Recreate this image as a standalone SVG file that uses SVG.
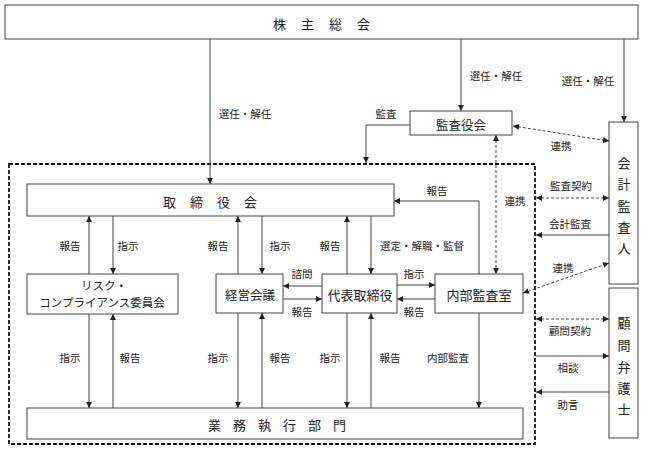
<svg xmlns="http://www.w3.org/2000/svg" width="645" height="449" viewBox="0 0 645 449">
<defs>
<style>
.box{fill:#fff;stroke:#444;stroke-width:1}
.ln{fill:none;stroke:#444;stroke-width:1}
.dl{fill:none;stroke:#444;stroke-width:1;stroke-dasharray:3 2}
.border{fill:none;stroke:#111;stroke-width:1.8;stroke-dasharray:4 2}
text{font-family:"Noto Sans CJK JP","Noto Sans CJK SC",sans-serif;fill:#222;dominant-baseline:central}
.lb{font-size:10.5px;text-anchor:middle}
.bt{font-size:12.5px;text-anchor:middle}
.big{font-size:13px}
</style>
<marker id="ah" viewBox="0 0 6 6" refX="6" refY="3" markerWidth="6" markerHeight="6" markerUnits="userSpaceOnUse" orient="auto-start-reverse">
<path d="M0,0 L6,3 L0,6 Z" fill="#222"/>
</marker>
</defs>

<rect class="border" x="9" y="164" width="526" height="280"/>

<g id="shareholders">
<rect class="box" x="5" y="5" width="633" height="34"/>
<text class="big" x="273" y="23" letter-spacing="15">株主総会</text>
</g>

<g id="board">
<rect class="box" x="27" y="184" width="367" height="32"/>
<text class="big" x="163" y="201" letter-spacing="14">取締役会</text>
</g>

<g id="kansayakukai">
<rect class="box" x="410" y="111" width="102" height="24"/>
<text class="bt" x="461" y="124">監査役会</text>
</g>

<g id="risk">
<rect class="box" x="27" y="274" width="151" height="40"/>
<text class="bt" x="104" y="285" style="font-size:11.5px">リスク・</text>
<text class="bt" x="102" y="302" style="font-size:11.5px">コンプライアンス委員会</text>
</g>

<g id="keiei">
<rect class="box" x="216" y="274" width="67" height="39"/>
<text class="bt" x="250" y="294">経営会議</text>
</g>

<g id="daihyo">
<rect class="box" x="322" y="274" width="75" height="39"/>
<text class="bt" x="360" y="294" style="font-size:13px">代表取締役</text>
</g>

<g id="naibu">
<rect class="box" x="435" y="274" width="88" height="39"/>
<text class="bt" x="479" y="294" style="font-size:13px">内部監査室</text>
</g>

<g id="gyomu">
<rect class="box" x="27" y="408" width="496" height="31"/>
<text class="big" x="208" y="424" letter-spacing="12">業務執行部門</text>
</g>

<g id="auditor">
<rect class="box" x="609" y="122" width="29" height="162"/>
<text class="bt" x="624" y="162" style="font-size:13px">会</text>
<text class="bt" x="624" y="183" style="font-size:13px">計</text>
<text class="bt" x="624" y="205" style="font-size:13px">監</text>
<text class="bt" x="624" y="226" style="font-size:13px">査</text>
<text class="bt" x="624" y="247" style="font-size:13px">人</text>
</g>

<g id="lawyer">
<rect class="box" x="609" y="288" width="29" height="150"/>
<text class="bt" x="624" y="322" style="font-size:13px">顧</text>
<text class="bt" x="624" y="344" style="font-size:13px">問</text>
<text class="bt" x="624" y="366" style="font-size:13px">弁</text>
<text class="bt" x="624" y="387" style="font-size:13px">護</text>
<text class="bt" x="624" y="408" style="font-size:13px">士</text>
</g>

<g id="connectors">
<path class="ln" d="M210 39 V184" marker-end="url(#ah)"/>
<path class="ln" d="M461 39 V111" marker-end="url(#ah)"/>
<path class="ln" d="M624 39 V122" marker-end="url(#ah)"/>
<path class="ln" d="M410 125 H366 V163" marker-end="url(#ah)"/>
<path class="dl" d="M513 126 L609 141" marker-start="url(#ah)" marker-end="url(#ah)"/>
<path class="dl" d="M496 135 V274" marker-start="url(#ah)" marker-end="url(#ah)"/>

<path class="ln" d="M89 274 V216" marker-end="url(#ah)"/>
<path class="ln" d="M113 216 V274" marker-end="url(#ah)"/>
<path class="ln" d="M238 274 V216" marker-end="url(#ah)"/>
<path class="ln" d="M262 216 V274" marker-end="url(#ah)"/>
<path class="ln" d="M347 274 V216" marker-end="url(#ah)"/>
<path class="ln" d="M371 216 V274" marker-end="url(#ah)"/>
<path class="ln" d="M479 274 V201 H394" marker-end="url(#ah)"/>

<path class="ln" d="M322 286 H283" marker-end="url(#ah)"/>
<path class="ln" d="M283 299 H322" marker-end="url(#ah)"/>
<path class="ln" d="M397 285 H435" marker-end="url(#ah)"/>
<path class="ln" d="M435 299 H397" marker-end="url(#ah)"/>

<path class="ln" d="M89 314 V408" marker-end="url(#ah)"/>
<path class="ln" d="M113 408 V314" marker-end="url(#ah)"/>
<path class="ln" d="M238 313 V408" marker-end="url(#ah)"/>
<path class="ln" d="M262 408 V313" marker-end="url(#ah)"/>
<path class="ln" d="M347 313 V408" marker-end="url(#ah)"/>
<path class="ln" d="M371 408 V313" marker-end="url(#ah)"/>
<path class="ln" d="M479 313 V408" marker-end="url(#ah)"/>

<path class="dl" d="M536 198 H609" marker-start="url(#ah)" marker-end="url(#ah)"/>
<path class="ln" d="M609 235 H536" marker-end="url(#ah)"/>
<path class="dl" d="M523 293 L609 263" marker-start="url(#ah)" marker-end="url(#ah)"/>
<path class="dl" d="M536 319 H609" marker-start="url(#ah)" marker-end="url(#ah)"/>
<path class="ln" d="M536 356 H609" marker-end="url(#ah)"/>
<path class="ln" d="M609 392 H536" marker-end="url(#ah)"/>
</g>

<g id="labels">
<text class="lb" x="245" y="113">選任・解任</text>
<text class="lb" x="496" y="75">選任・解任</text>
<text class="lb" x="588" y="80">選任・解任</text>
<text class="lb" x="386" y="113">監査</text>
<text class="lb" x="561" y="145">連携</text>
<text class="lb" x="515" y="200">連携</text>
<text class="lb" x="571" y="185">監査契約</text>
<text class="lb" x="570" y="223">会計監査</text>
<text class="lb" x="563" y="267">連携</text>
<text class="lb" x="570" y="330">顧問契約</text>
<text class="lb" x="568" y="367">相談</text>
<text class="lb" x="568" y="404">助言</text>
<text class="lb" x="437" y="190">報告</text>

<text class="lb" x="70" y="245">報告</text>
<text class="lb" x="128" y="245">指示</text>
<text class="lb" x="218" y="245">報告</text>
<text class="lb" x="280" y="245">指示</text>
<text class="lb" x="330" y="245">報告</text>
<text class="lb" x="422" y="245">選定・解職・監督</text>

<text class="lb" x="302" y="273">諮問</text>
<text class="lb" x="302" y="311">報告</text>
<text class="lb" x="414" y="273">指示</text>
<text class="lb" x="414" y="311">報告</text>

<text class="lb" x="70" y="357">指示</text>
<text class="lb" x="130" y="357">報告</text>
<text class="lb" x="218" y="357">指示</text>
<text class="lb" x="280" y="357">報告</text>
<text class="lb" x="330" y="357">指示</text>
<text class="lb" x="390" y="357">報告</text>
<text class="lb" x="448" y="357">内部監査</text>
</g>
</svg>
